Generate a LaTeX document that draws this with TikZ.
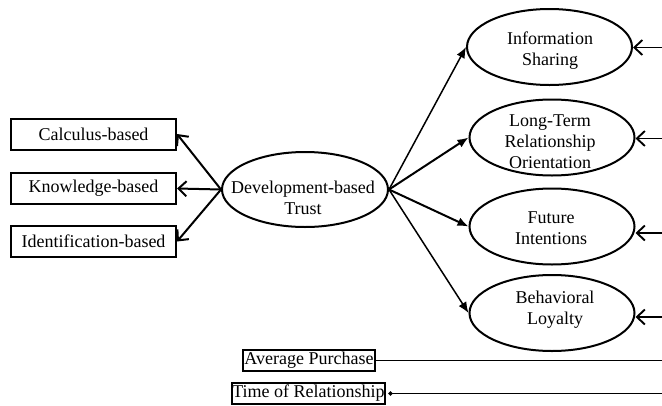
\documentclass[tikz,border=0pt]{standalone}
\usepackage{fontspec}
\setmainfont{Liberation Serif}
\usetikzlibrary{arrows.meta,shapes.geometric}
\begin{document}
\begin{tikzpicture}[x=1pt,y=-1pt,
  txt/.style={font=\fontsize{18}{21}\selectfont, align=center, inner sep=0pt},
  oval/.style={draw, ellipse, line width=2pt, minimum width=165pt, minimum height=76pt, inner sep=0pt},
  sbox/.style={draw, line width=2pt, minimum width=165pt, minimum height=31pt, inner sep=0pt, font=\fontsize{18}{21}\selectfont},
  cbox/.style={draw, line width=1.7pt, minimum height=21pt, inner sep=0pt, font=\fontsize{18}{21}\selectfont},
  openarr/.style={-{Straight Barb[length=8pt,width=15pt]}, line width=2pt},
  fillarr/.style={-{Latex[length=11pt,width=9pt]}, line width=2pt},
  inarr/.style={-{Straight Barb[length=8pt,width=15pt]}, line width=1.9pt}
]
\useasboundingbox (0,0) rectangle (662,405);
% left boxes
\node[sbox] (calc) at (93.5,134) {Calculus-based};
\node[sbox] (know) at (93.5,188.5) {Knowledge-based};
\node[sbox] (iden) at (93.5,241.5) {Identification-based};
% central ellipse
\node[oval, minimum width=166pt, minimum height=75pt] (dev) at (305,189.5) {};
\node[txt] (devt) at (303,198) {Development-based\\Trust};
% right ellipses
\node[oval] (info) at (549.5,47) {};
\node[txt] (infot) at (550,50.5) {Information\\Sharing};
\node[oval] (lt) at (552,137.5) {};
\node[txt] (ltt) at (550,141.5) {Long-Term\\Relationship\\Orientation};
\node[oval] (fut) at (552,226.5) {};
\node[txt] (futt) at (551,228.5) {Future\\Intentions};
\node[oval] (beh) at (552,313) {};
\node[txt] (beht) at (555,310) {Behavioral\\Loyalty};
% bottom boxes
\node[cbox, minimum width=132pt] (avg) at (309,360.5) {Average Purchase};
\node[cbox, minimum width=151pt] (tim) at (308.5,393.5) {Time of Relationship};
% right edge coordinates
\coordinate (rinfo) at (662,47.5);
\coordinate (rlt) at (662,138.5);
\coordinate (rfut) at (662,233);
\coordinate (rbeh) at (662,317);
\coordinate (ravg) at (662,360.5);
\coordinate (rtim) at (662,393.5);
% left arrows
\draw[openarr] (dev.west) -- (calc.east);
\draw[openarr] (dev.west) -- (know.east);
\draw[openarr] (dev.west) -- (iden.east);
% right arrows
\draw[fillarr, line width=1.5pt] (dev.east) -- (info.west);
\draw[fillarr] (dev.east) -- (lt.west);
\draw[fillarr] (dev.east) -- (fut.west);
\draw[fillarr, line width=1.5pt] (dev.east) -- (beh.west);
% incoming from right
\draw[inarr] (rinfo) -- (rinfo -| info.east);
\draw[inarr] (rlt) -- (rlt -| lt.east);
\draw[inarr] (rfut) -- (rfut -| fut.east);
\draw[inarr] (rbeh) -- (rbeh -| beh.east);
% bottom lines
\draw[line width=1.8pt] (avg.east) -- (ravg);
\draw[{Circle[length=4pt]}-, line width=1.8pt, shorten <=3pt] (tim.east) -- (rtim);
\end{tikzpicture}
\end{document}
